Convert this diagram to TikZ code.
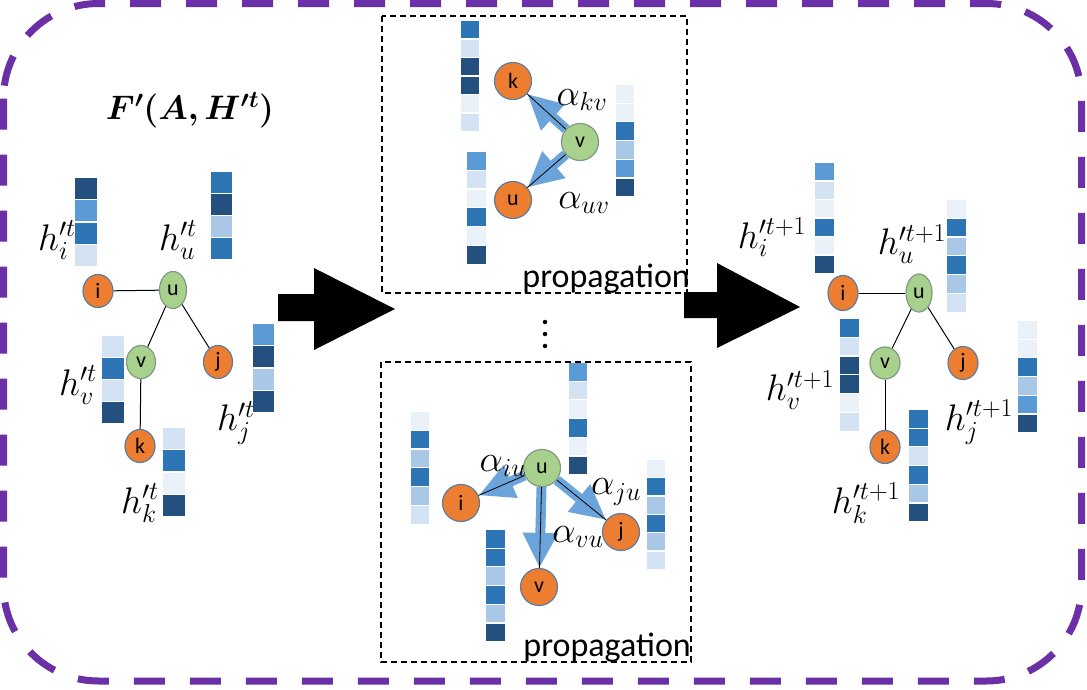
\RequirePackage{fix-cm}
\documentclass[tikz,border=0pt]{standalone}
\usepackage{fontspec}
\usepackage{amsmath,bm}
\newfontfamily\carlito{Carlito}
\usetikzlibrary{shapes.geometric,arrows.meta}
\pgfdeclarelayer{background}
\pgfsetlayers{background,main}
\definecolor{borderpurple}{HTML}{6B30A5}
\definecolor{nodeorange}{HTML}{ED7D31}
\definecolor{nodegreen}{HTML}{A9D18E}
\definecolor{orangeline}{HTML}{5E7D9C}
\definecolor{greenline}{HTML}{7F9A80}
\definecolor{cD}{HTML}{23507F}
\definecolor{cM}{HTML}{2E75B6}
\definecolor{cA}{HTML}{5B9BD5}
\definecolor{cB}{HTML}{A9C8E8}
\definecolor{cC}{HTML}{D3E3F3}
\definecolor{cE}{HTML}{EAF1F9}
\definecolor{attblue}{HTML}{6AA4DA}
\newcommand{\cellbar}[5]{%
  \foreach \cc [count=\nn from 0] in {#5} {
    \fill[\cc] (#1, {#2+\nn*#4}) rectangle ++(#3, {#4-1.2});
  }}
\tikzset{
  onode/.style={ellipse, fill=nodeorange, draw=orangeline, line width=1.2pt, inner sep=0pt,
    font=\carlito\fontsize{22}{22}\selectfont},
  gnode/.style={ellipse, fill=nodegreen, draw=greenline, line width=1.2pt, inner sep=0pt,
    font=\carlito\fontsize{22}{22}\selectfont},
  gedge/.style={line width=1pt, black},
  attarrow/.style={attblue, line width=10pt, -{Triangle[width=33pt,length=35pt]}},
  mathlabel/.style={font=\fontsize{37}{42}\selectfont, inner sep=0pt},
  titlelabel/.style={font=\fontsize{34}{40}\selectfont, inner sep=0pt},
  proplabel/.style={font=\carlito\fontsize{34}{34}\selectfont, inner sep=0pt, anchor=base east},
  dashbox/.style={draw, line width=1.2pt, dash pattern=on 6pt off 4pt},
  bigarrow/.style={fill=black},
  dotstyle/.style={circle, fill=black, inner sep=0pt, minimum size=4.5pt},
}
\begin{document}
\begin{tikzpicture}[x=1pt,y=-1pt]
\path[use as bounding box] (0,0) rectangle (1087,689);
% outer border
\draw[borderpurple, line width=7pt, dash pattern=on 31pt off 25pt, rounded corners=95pt]
  (3.5,3.5) rectangle (1081.5,681);

% ---------------- left graph ----------------
\node[titlelabel] (title) at (190,110) {$\bm{F'(A,H^{\prime t})}$};
\cellbar{75}{178}{22}{22.3}{cD,cA,cM,cC}
\cellbar{211}{172}{21}{22}{cM,cD,cB,cM}
\cellbar{253}{324}{21}{22.3}{cA,cD,cB,cD}
\cellbar{102}{336}{22}{22}{cC,cM,cC,cD}
\cellbar{163}{428}{22}{22.3}{cC,cM,cE,cD}
\node[onode, minimum width=30pt, minimum height=33pt] (Li) at (98,291) {i};
\node[gnode, minimum width=27pt, minimum height=37pt] (Lu) at (173,290) {u};
\node[gnode, minimum width=29pt, minimum height=33pt] (Lv) at (141,362) {v};
\node[onode, minimum width=29pt, minimum height=33pt] (Lj) at (218,362) {j};
\node[onode, minimum width=30pt, minimum height=33pt] (Lk) at (140,446) {k};
\draw[gedge] (Li) -- (Lu);
\draw[gedge] (Lu) -- (Lv);
\draw[gedge] (Lu) -- (Lj);
\draw[gedge] (Lv) -- (Lk);
\node[mathlabel] (hi) at (57,240) {$h^{\prime t}_{i}$};
\node[mathlabel] (hu) at (178,240) {$h^{\prime t}_{u}$};
\node[mathlabel] (hv) at (78,385) {$h^{\prime t}_{v}$};
\node[mathlabel] (hj) at (236,423) {$h^{\prime t}_{j}$};
\node[mathlabel] (hk) at (140,503) {$h^{\prime t}_{k}$};

% ---------------- big arrows ----------------
\fill[bigarrow] (278,294) -- (314,294) -- (314,268) -- (395,309) -- (314,350) -- (314,321) -- (278,321) -- cycle;
\fill[bigarrow] (684,292) -- (717,292) -- (717,263) -- (800,307) -- (717,348) -- (717,318) -- (684,318) -- cycle;

% ---------------- top propagation box ----------------
\draw[dashbox] (382,16) rectangle (687,293);
\cellbar{461}{21}{18}{18.5}{cM,cC,cD,cD,cE,cC}
\cellbar{467}{152}{19}{18.8}{cA,cC,cE,cM,cE,cD}
\cellbar{616}{85}{18}{18.7}{cE,cE,cM,cB,cA,cD}
\node[onode, minimum size=37pt] (Tk) at (513,81) {k};
\node[gnode, minimum size=37pt] (Tv) at (580,142) {v};
\node[onode, minimum size=37pt] (Tu) at (513,200) {u};
\begin{pgfonlayer}{background}
\draw[attarrow] (Tv) -- (Tk);
\draw[attarrow] (Tv) -- (Tu);
\end{pgfonlayer}
\draw[gedge, line width=0.8pt] (Tk) -- (Tv);
\draw[gedge, line width=0.8pt] (Tu) -- (Tv);
\node[mathlabel] (akv) at (582,100) {$\alpha_{kv}$};
\node[mathlabel] (auv) at (584,203) {$\alpha_{uv}$};
\node[proplabel] (prop1) at (690,287) {propagation};

% dots
\node[dotstyle] (d1) at (545,322) {};
\node[dotstyle] (d2) at (545,334) {};
\node[dotstyle] (d3) at (545,346) {};

% ---------------- bottom propagation box ----------------
\draw[dashbox] (381,362) rectangle (691,662);
\cellbar{411}{412}{18}{18.8}{cE,cM,cB,cM,cB,cC}
\cellbar{569}{363}{18}{18.7}{cA,cC,cE,cM,cE,cD}
\cellbar{486}{530}{19}{18.7}{cM,cM,cB,cM,cB,cD}
\cellbar{647}{460}{18}{18.3}{cE,cM,cB,cM,cB,cC}
\node[gnode, minimum size=37pt] (Bu) at (542,468) {u};
\node[onode, minimum size=37pt] (Bi) at (461,503) {i};
\node[onode, minimum size=37pt] (Bj) at (621,532) {j};
\node[onode, minimum size=37pt] (Bv) at (539,587) {v};
\begin{pgfonlayer}{background}
\draw[attarrow] (Bu) -- (Bi);
\draw[attarrow] (Bu) -- (Bv);
\draw[attarrow] (Bu) -- (Bj);
\end{pgfonlayer}
\draw[gedge, line width=0.8pt] (Bu) -- (Bi);
\draw[gedge, line width=0.8pt] (Bu) -- (Bv);
\draw[gedge, line width=0.8pt] (Bu) -- (Bj);
\node[mathlabel] (aiu) at (503,466) {$\alpha_{iu}$};
\node[mathlabel] (aju) at (616,492) {$\alpha_{ju}$};
\node[mathlabel] (avu) at (578,537) {$\alpha_{vu}$};
\node[proplabel] (prop2) at (691,656) {propagation};

% ---------------- right graph ----------------
\cellbar{815}{163}{19}{18.5}{cA,cC,cE,cM,cE,cD}
\cellbar{947}{200}{19}{18.8}{cE,cM,cB,cM,cB,cC}
\cellbar{840}{319}{19}{18.8}{cM,cC,cD,cD,cE,cC}
\cellbar{909}{410}{19}{18.7}{cM,cM,cC,cM,cB,cD}
\cellbar{1018}{321}{19}{18.7}{cE,cE,cM,cB,cA,cD}
\node[onode, minimum width=30pt, minimum height=35pt] (Ri) at (843,293) {i};
\node[gnode, minimum width=26pt, minimum height=38pt] (Ru) at (919,293) {u};
\node[gnode, minimum width=30pt, minimum height=32pt] (Rv) at (885,363) {v};
\node[onode, minimum width=30pt, minimum height=33pt] (Rj) at (963,363) {j};
\node[onode, minimum width=30pt, minimum height=33pt] (Rk) at (885,447) {k};
\draw[gedge] (Ri) -- (Ru);
\draw[gedge] (Ru) -- (Rv);
\draw[gedge] (Ru) -- (Rj);
\draw[gedge] (Rv) -- (Rk);
\node[mathlabel] (ri) at (772,237) {$h^{\prime t+1}_{i}$};
\node[mathlabel] (ru) at (912,244) {$h^{\prime t+1}_{u}$};
\node[mathlabel] (rv) at (800,390) {$h^{\prime t+1}_{v}$};
\node[mathlabel] (rj) at (979,422) {$h^{\prime t+1}_{j}$};
\node[mathlabel] (rk) at (866,503) {$h^{\prime t+1}_{k}$};
\end{tikzpicture}
\end{document}
